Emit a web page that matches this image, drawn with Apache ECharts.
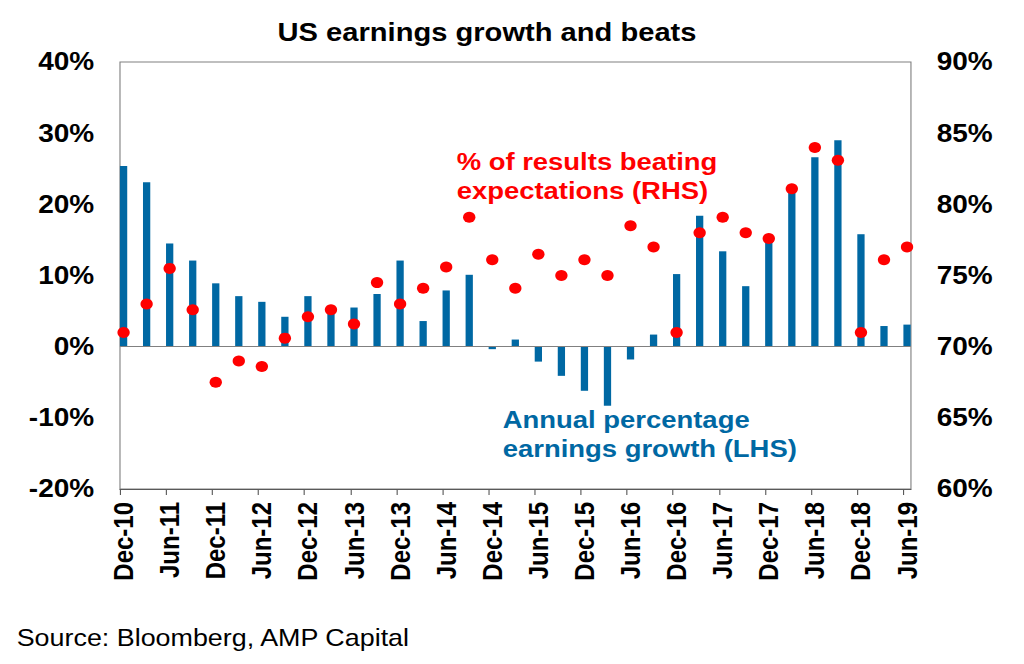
<!DOCTYPE html>
<html>
<head>
<meta charset="utf-8">
<script src="https://cdn.jsdelivr.net/npm/echarts@6/dist/echarts.min.js"></script>
<style>
html,body{margin:0;padding:0;background:#fff;overflow:hidden;}
#c{width:914px;height:664px;transform:scaleX(1.12035);transform-origin:0 0;}
</style>
</head>
<body>
<div id="c"></div>
<script>
// Tick labels (every second quarter, Dec-10 .. Jun-19)
var xLabels = ['Dec-10','Jun-11','Dec-11','Jun-12','Dec-12','Jun-13','Dec-13','Jun-14','Dec-14',
               'Jun-15','Dec-15','Jun-16','Dec-16','Jun-17','Dec-17','Jun-18','Dec-18','Jun-19'];
// Annual percentage earnings growth (LHS), quarterly Dec-10 .. Jun-19
var growth = [25.4, 23.1, 14.5, 12.1, 8.9, 7.1, 6.3, 4.2, 7.1, 4.9,
              5.5, 7.4, 12.1, 3.6, 7.9, 10.1, -0.35, 1.0, -2.1, -4.1,
              -6.2, -8.3, -1.8, 1.7, 10.2, 18.4, 13.4, 8.5, 15.0, 22.0,
              26.6, 29.0, 15.8, 2.9, 3.1];
// % of results beating expectations (RHS)
var beats = [71.0, 73.0, 75.5, 72.6, 67.5, 69.0, 68.6, 70.6, 72.1, 72.6,
             71.6, 74.5, 73.0, 74.1, 75.6, 79.1, 76.1, 74.1, 76.5, 75.0,
             76.1, 75.0, 78.5, 77.0, 71.0, 78.0, 79.1, 78.0, 77.6, 81.1,
             84.0, 83.1, 71.0, 76.1, 77.0];
var leftTicks = [-20, -10, 0, 10, 20, 30, 40];
var rightTicks = [60, 65, 70, 75, 80, 85, 90];

var FONT = 'Liberation Sans, Arial, sans-serif';
var BLUE = '#0068A3';
var RED = '#FF0000';
var TICK_SHIFT = 0.156;

var labelVals = xLabels.map(function (_, k) { return 2 * k; });
var tickVals = labelVals.map(function (v) { return v - TICK_SHIFT; });

var chart = echarts.init(document.getElementById('c'), null, {renderer: 'svg'});
chart.setOption({
  animation: false,
  backgroundColor: '#fff',
  grid: {left: 107.1, right: 100.9, top: 62, height: 427, show: true,
         borderColor: '#808080', borderWidth: 1, containLabel: false},
  xAxis: {
    type: 'value', min: -TICK_SHIFT, max: 34.17,
    splitLine: {show: false},
    axisLine: {show: true, onZero: false, lineStyle: {color: '#595959', width: 1}},
    axisTick: {show: true, customValues: tickVals, length: 6, inside: false,
               lineStyle: {color: '#595959', width: 1}},
    axisLabel: {show: true, customValues: labelVals, rotate: 90, margin: 13,
                fontFamily: FONT, fontSize: 24, fontWeight: 'bold', color: '#000',
                formatter: function (v) { return xLabels[Math.round(v / 2)] || ''; }}
  },
  yAxis: [{
    type: 'value', min: leftTicks[0], max: leftTicks[leftTicks.length - 1], interval: 10,
    splitLine: {show: false}, axisLine: {show: false}, axisTick: {show: false},
    axisLabel: {margin: 23, fontFamily: FONT, fontSize: 25, fontWeight: 'bold', color: '#000',
                formatter: '{value}%'}
  }, {
    type: 'value', min: rightTicks[0], max: rightTicks[rightTicks.length - 1], interval: 5,
    position: 'right',
    splitLine: {show: false}, axisLine: {show: false}, axisTick: {show: false},
    axisLabel: {margin: 23, fontFamily: FONT, fontSize: 25, fontWeight: 'bold', color: '#000',
                formatter: '{value}%'}
  }],
  series: [{
    type: 'bar', yAxisIndex: 0, barWidth: 6.5,
    itemStyle: {color: BLUE},
    data: growth.map(function (v, i) { return [i, v]; }),
    markLine: {silent: true, symbol: 'none', label: {show: false},
               lineStyle: {color: '#808080', width: 1, type: 'solid'},
               data: [{yAxis: 0}]},
    z: 2
  }, {
    type: 'scatter', yAxisIndex: 1, symbol: 'circle', symbolSize: 11,
    itemStyle: {color: RED, opacity: 1},
    data: beats.map(function (v, i) { return [i, v]; }),
    z: 3
  }],
  graphic: [
    {type: 'text', x: 434.7, y: 32,
     style: {text: 'US earnings growth and beats', font: 'bold 26px ' + FONT, fill: '#000',
             textAlign: 'center', textVerticalAlign: 'middle'}},
    {type: 'text', x: 407.6, y: 176,
     style: {text: '% of results beating\nexpectations (RHS)', font: 'bold 24.5px ' + FONT,
             fill: RED, textAlign: 'left', textVerticalAlign: 'middle', lineHeight: 28.5}},
    {type: 'text', x: 448.7, y: 434.5,
     style: {text: 'Annual percentage\nearnings growth (LHS)', font: 'bold 24.5px ' + FONT,
             fill: BLUE, textAlign: 'left', textVerticalAlign: 'middle', lineHeight: 29}},
    {type: 'text', x: 14.9, y: 638,
     style: {text: 'Source: Bloomberg, AMP Capital', font: '24px ' + FONT, fill: '#000',
             textAlign: 'left', textVerticalAlign: 'middle'}}
  ]
});
</script>
</body>
</html>
